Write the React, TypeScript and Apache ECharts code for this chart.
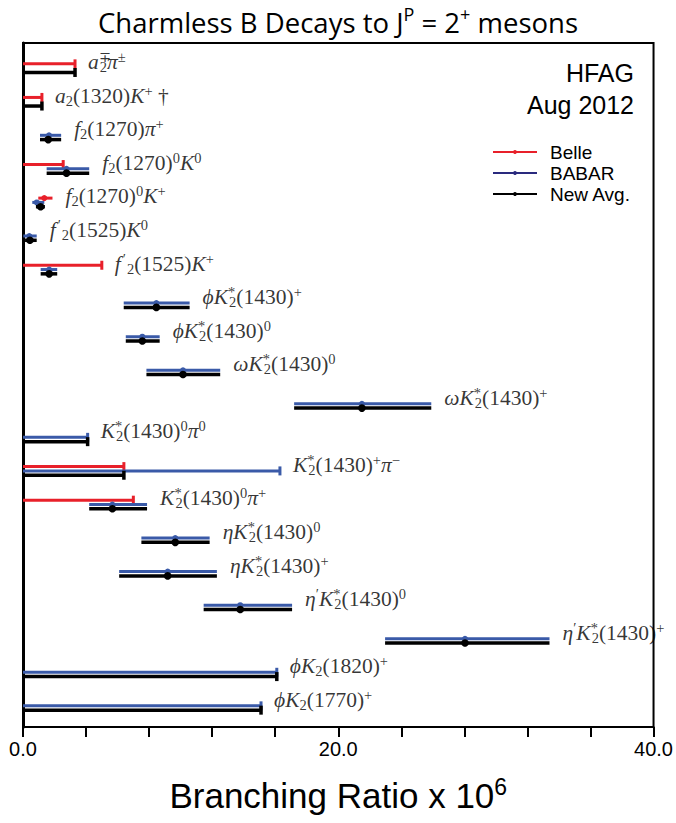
import { useEffect, useRef } from 'react';
import * as echarts from 'echarts';

// Row labels (rich-text markup for sub/superscripts), top to bottom
const decayLabels: string[] = [
  '{i|a}{st|∓}{sb|2}{i|π}{sp|±}',
  '{i|a}{sb|2}{n|(1320)}{i|K}{sp|+}{n| †}',
  '{i|f}{sb|2}{n|(1270)}{i|π}{sp|+}',
  '{i|f}{sb|2}{n|(1270)}{sp|0}{i|K}{sp|0}',
  '{i|f}{sb|2}{n|(1270)}{sp|0}{i|K}{sp|+}',
  '{i|f}{pr|′}{sb|2}{n|(1525)}{i|K}{sp|0}',
  '{i|f}{pr|′}{sb|2}{n|(1525)}{i|K}{sp|+}',
  '{i|ϕK}{st|*}{sb|2}{n|(1430)}{sp|+}',
  '{i|ϕK}{st|*}{sb|2}{n|(1430)}{sp|0}',
  '{i|ωK}{st|*}{sb|2}{n|(1430)}{sp|0}',
  '{i|ωK}{st|*}{sb|2}{n|(1430)}{sp|+}',
  '{i|K}{st|*}{sb|2}{n|(1430)}{sp|0}{i|π}{sp|0}',
  '{i|K}{st|*}{sb|2}{n|(1430)}{sp|+}{i|π}{sp|−}',
  '{i|K}{st|*}{sb|2}{n|(1430)}{sp|0}{i|π}{sp|+}',
  '{i|ηK}{st|*}{sb|2}{n|(1430)}{sp|0}',
  '{i|ηK}{st|*}{sb|2}{n|(1430)}{sp|+}',
  '{i|η}{sp|′}{i|K}{st|*}{sb|2}{n|(1430)}{sp|0}',
  '{i|η}{sp|′}{i|K}{st|*}{sb|2}{n|(1430)}{sp|+}',
  '{i|ϕK}{sb|2}{n|(1820)}{sp|+}',
  '{i|ϕK}{sb|2}{n|(1770)}{sp|+}',
];

// Upper limits: [row, limit]
const belleLimits: number[][] = [[0, 3.3], [1, 1.2], [3, 2.55], [6, 5.0], [12, 6.4], [13, 7.0]];
const babarLimits: number[][] = [[11, 4.1], [12, 16.3], [18, 16.1], [19, 15.1]];
const avgLimits: number[][] = [[0, 3.3], [1, 1.2], [11, 4.1], [12, 6.4], [18, 16.1], [19, 15.1]];

// Measurements: [row, low, central, high]
const belleValues: number[][] = [[4, 0.97, 1.35, 1.87]];
const babarValues: number[][] = [
  [2, 1.08, 1.65, 2.42],
  [3, 1.5, 2.76, 4.2],
  [4, 0.59, 0.87, 1.35],
  [5, 0.02, 0.4, 0.87],
  [6, 1.12, 1.66, 2.17],
  [7, 6.39, 8.46, 10.57],
  [8, 6.52, 7.57, 8.67],
  [9, 7.83, 10.15, 12.51],
  [10, 17.2, 21.5, 25.9],
  [13, 4.2, 5.67, 7.87],
  [14, 7.51, 9.66, 11.84],
  [15, 6.1, 9.18, 12.3],
  [16, 11.46, 13.78, 17.07],
  [17, 22.97, 28.04, 33.4],
];
const avgValues: number[][] = [
  [2, 1.08, 1.6, 2.42],
  [3, 1.5, 2.76, 4.2],
  [4, 0.82, 1.12, 1.39],
  [5, 0.13, 0.44, 0.87],
  [6, 1.12, 1.66, 2.17],
  [7, 6.39, 8.46, 10.57],
  [8, 6.52, 7.57, 8.67],
  [9, 7.83, 10.15, 12.51],
  [10, 17.2, 21.5, 25.9],
  [13, 4.2, 5.67, 7.87],
  [14, 7.51, 9.66, 11.84],
  [15, 6.1, 9.18, 12.3],
  [16, 11.46, 13.78, 17.07],
  [17, 22.97, 28.04, 33.4],
];

const xTickLabels = ['0.0', '20.0', '40.0'];
const legendNames = ['Belle', 'BABAR', 'New Avg.'];
const legendColors = ['#e8202a', '#2a2a7e', '#000000'];

const RED = '#e8202a';
const BLUE = '#3a5aa8';
const BLACK = '#000000';

function limitSeries(name: string, data: number[][], color: string, offset: number, width: number) {
  return {
    type: 'custom',
    name,
    data,
    encode: { x: 1, y: 0 },
    clip: false,
    z: 3,
    renderItem: (_p: any, api: any) => {
      const row = api.value(0);
      const v = api.value(1);
      const p0 = api.coord([0, row]);
      const p1 = api.coord([v, row]);
      const y = p0[1] + offset;
      return {
        type: 'group',
        children: [
          { type: 'line', shape: { x1: p0[0], y1: y, x2: p1[0], y2: y }, style: { stroke: color, lineWidth: width } },
          { type: 'line', shape: { x1: p1[0], y1: y - 4.5, x2: p1[0], y2: y + 4.5 }, style: { stroke: color, lineWidth: width } },
        ],
      };
    },
  };
}

function valueSeries(name: string, data: number[][], color: string, offset: number, width: number, r: number) {
  return {
    type: 'custom',
    name,
    data,
    encode: { x: [1, 2, 3], y: 0 },
    clip: false,
    z: 3,
    renderItem: (_p: any, api: any) => {
      const row = api.value(0);
      const lo = api.coord([api.value(1), row]);
      const c = api.coord([api.value(2), row]);
      const hi = api.coord([api.value(3), row]);
      const y = c[1] + offset;
      return {
        type: 'group',
        children: [
          { type: 'line', shape: { x1: lo[0], y1: y, x2: hi[0], y2: y }, style: { stroke: color, lineWidth: width } },
          { type: 'circle', shape: { cx: c[0], cy: y, r }, style: { fill: color } },
        ],
      };
    },
  };
}

function rowMaxX(row: number): number {
  let m = 0;
  for (const d of [...belleLimits, ...babarLimits, ...avgLimits]) if (d[0] === row) m = Math.max(m, d[1]);
  for (const d of [...belleValues, ...babarValues, ...avgValues]) if (d[0] === row) m = Math.max(m, d[3]);
  return m;
}

const SERIF = '"Liberation Serif", "DejaVu Serif", serif';
const SANS = '"Liberation Sans", Arial, sans-serif';

export default function App() {
  const ref = useRef<HTMLDivElement>(null);
  useEffect(() => {
    if (!ref.current) return;
    const chart = echarts.init(ref.current, undefined, { renderer: 'svg' });
    const OFF = 4.3;
    const labelData = decayLabels.map((_, i) => [rowMaxX(i), i]);
    const legendGraphics: any[] = [];
    legendNames.forEach((n, i) => {
      const y = 152 + i * 21;
      legendGraphics.push({ type: 'line', shape: { x1: 493, y1: y, x2: 537, y2: y }, style: { stroke: legendColors[i], lineWidth: 2 } });
      legendGraphics.push({ type: 'circle', shape: { cx: 515, cy: y, r: 2 }, style: { fill: legendColors[i] } });
      legendGraphics.push({ type: 'text', x: 550, y, style: { text: n, fill: '#000', font: `19px ${SANS}`, verticalAlign: 'middle', align: 'left' } });
    });
    const sup = { fontFamily: SERIF, fontSize: 14.5, lineHeight: 14, verticalAlign: 'top', color: '#000' };
    chart.setOption({
      animation: false,
      backgroundColor: '#ffffff',
      grid: { left: 23, right: 21, top: 43, bottom: 96, show: true, borderColor: '#000', borderWidth: 2 },
      xAxis: {
        type: 'value',
        min: 0,
        max: 40,
        interval: 4,
        axisLine: { show: true, onZero: false, lineStyle: { color: '#000', width: 2 } },
        axisTick: { show: true, length: 10, lineStyle: { color: '#000', width: 2 } },
        splitLine: { show: false },
        axisLabel: {
          color: '#000',
          fontSize: 20,
          fontFamily: SANS,
          margin: 12,
          formatter: (v: number) => (v % 20 === 0 ? xTickLabels[v / 20] : ''),
        },
        name: '{a|Branching Ratio x 10}{s|6}',
        nameLocation: 'middle',
        nameGap: 48,
        nameTextStyle: {
          rich: {
            a: { fontSize: 35, fontFamily: SANS, color: '#000', lineHeight: 40 },
            s: { fontSize: 23, fontFamily: SANS, color: '#000', verticalAlign: 'top', lineHeight: 22 },
          },
        },
      },
      yAxis: {
        type: 'value',
        inverse: true,
        min: -0.75,
        max: 19.63,
        axisLine: { show: true, onZero: false, lineStyle: { color: '#000', width: 3 } },
        axisTick: { show: false },
        axisLabel: { show: false },
        splitLine: { show: false },
      },
      series: [
        limitSeries('Belle', belleLimits, RED, -OFF, 3),
        valueSeries('Belle', belleValues, RED, -OFF, 3, 3),
        limitSeries('BABAR', babarLimits, BLUE, 0, 3),
        valueSeries('BABAR', babarValues, BLUE, 0, 3, 3),
        limitSeries('New Avg.', avgLimits, BLACK, OFF, 3.5),
        valueSeries('New Avg.', avgValues, BLACK, OFF, 3.5, 3.8),
        {
          type: 'scatter',
          name: 'labels',
          data: labelData,
          symbolSize: 0,
          silent: true,
          label: {
            show: true,
            position: 'right',
            distance: 13,
            offset: [0, -6],
            color: '#000',
            formatter: (p: any) => decayLabels[p.dataIndex],
            rich: {
              i: { fontFamily: SERIF, fontStyle: 'italic', fontSize: 21.5, lineHeight: 25, color: '#000' },
              n: { fontFamily: SERIF, fontSize: 21.5, lineHeight: 25, color: '#000' },
              sp: sup,
              pr: { ...sup, padding: [0, 1, 0, 2] },
              st: { ...sup, width: 1, align: 'left' },
              sb: { fontFamily: SERIF, fontSize: 14.5, lineHeight: 14, verticalAlign: 'bottom', color: '#000' },
            },
          },
        },
      ],
      graphic: [
        {
          type: 'text',
          x: 338,
          y: 22,
          style: {
            text: '{a|Charmless B Decays to J}{s|P}{a| = 2}{s|+}{a| mesons}',
            align: 'center',
            verticalAlign: 'middle',
            rich: {
              a: { fontFamily: '"Open Sans", sans-serif', fontSize: 27.5, lineHeight: 34, fill: '#000' },
              s: { fontFamily: '"Open Sans", sans-serif', fontSize: 18, lineHeight: 18, verticalAlign: 'top', fill: '#000' },
            },
          },
        },
        { type: 'text', x: 634, y: 73, style: { text: 'HFAG', font: `25px ${SANS}`, fill: '#000', align: 'right', verticalAlign: 'middle' } },
        { type: 'text', x: 634, y: 105, style: { text: 'Aug 2012', font: `25px ${SANS}`, fill: '#000', align: 'right', verticalAlign: 'middle' } },
        ...legendGraphics,
      ],
    });
    return () => chart.dispose();
  }, []);
  return <div ref={ref} style={{ width: 676, height: 823, position: 'absolute', left: 0, top: 0 }} />;
}
